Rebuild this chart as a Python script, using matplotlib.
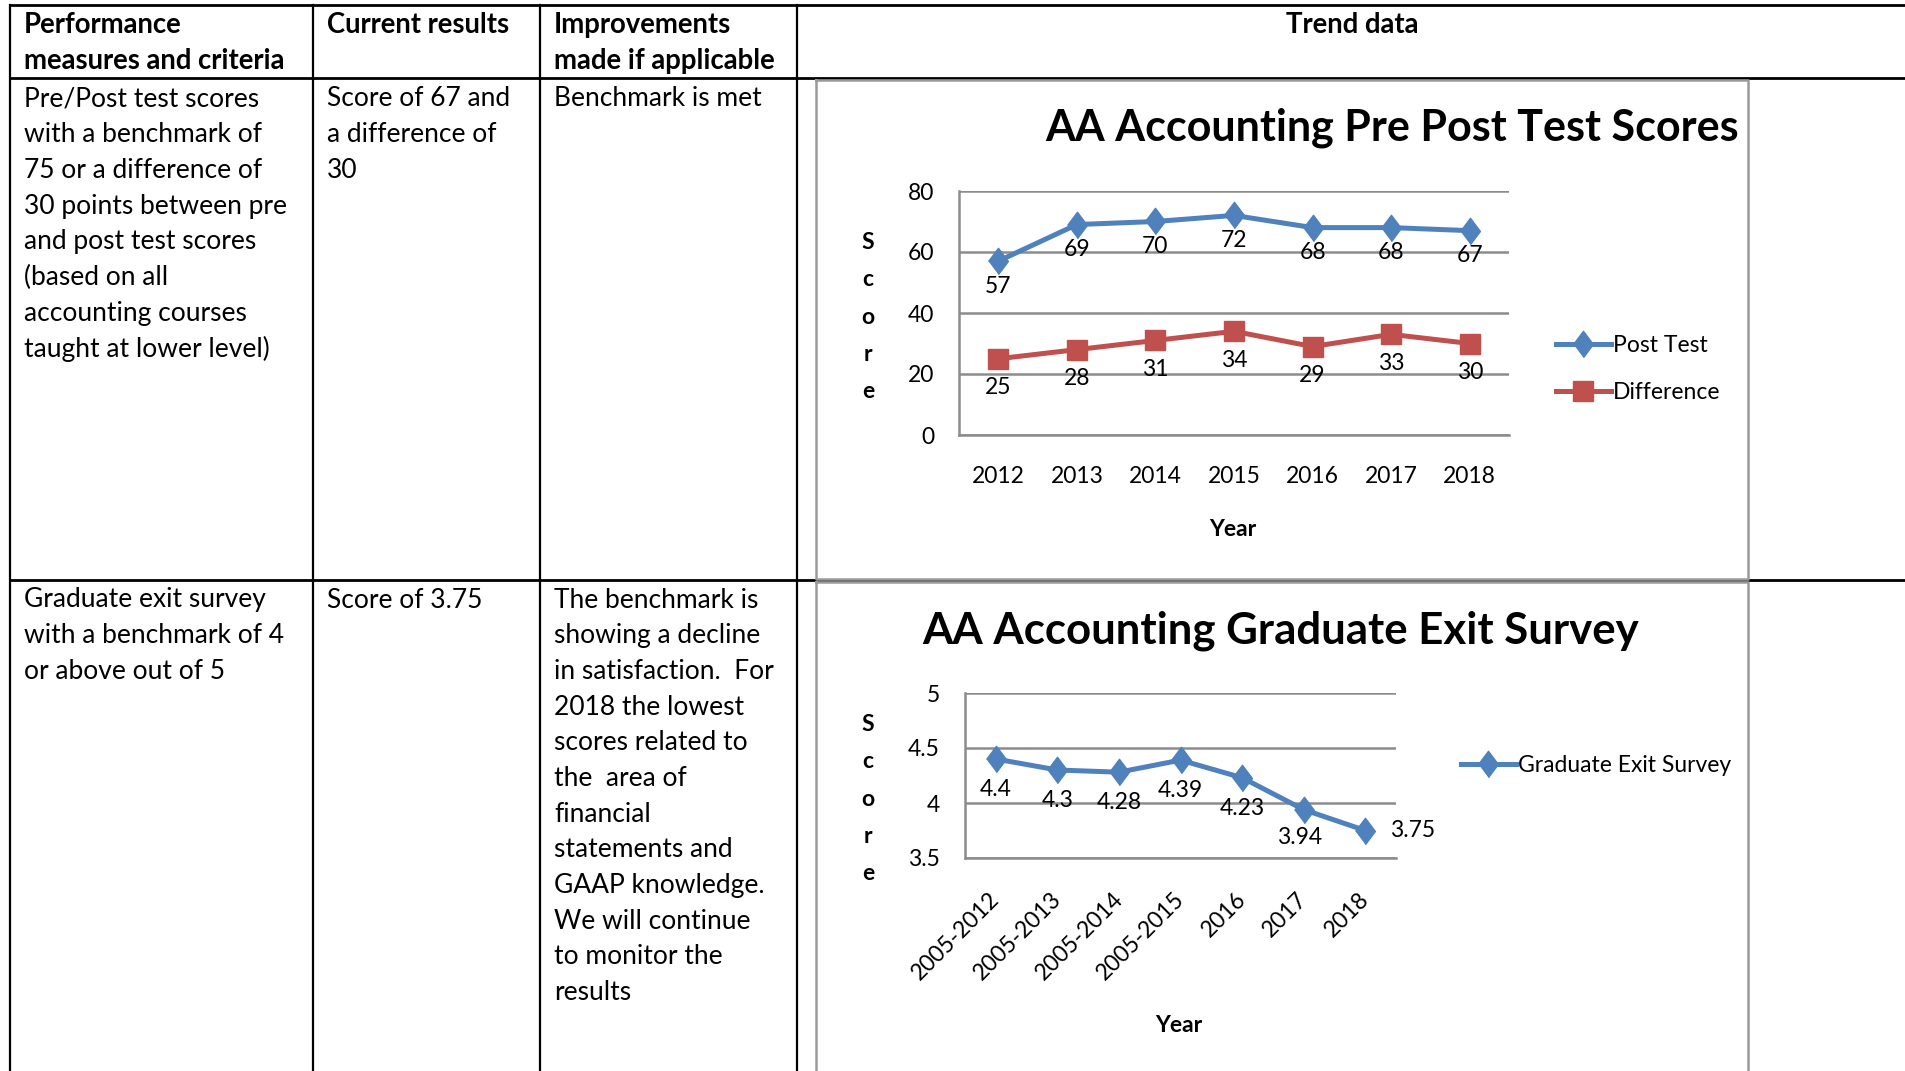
import matplotlib
matplotlib.use("Agg")
import matplotlib.pyplot as plt

plt.rcParams['font.family'] = ['Lato', 'DejaVu Sans']

W, H = 1906, 1071

# ---- data ----
years = ['2012', '2013', '2014', '2015', '2016', '2017', '2018']
post_test = [57, 69, 70, 72, 68, 68, 67]
difference = [25, 28, 31, 34, 29, 33, 30]

survey_years = ['2005-2012', '2005-2013', '2005-2014', '2005-2015', '2016', '2017', '2018']
exit_survey = [4.4, 4.3, 4.28, 4.39, 4.23, 3.94, 3.75]

header = [['Performance', 'measures and criteria'], ['Current results'],
          ['Improvements', 'made if applicable']]
row1 = [['Pre/Post test scores', 'with a benchmark of', '75 or a difference of',
         '30 points between pre', 'and post test scores', '(based on all',
         'accounting courses', 'taught at lower level)'],
        ['Score of 67 and', 'a difference of', '30'],
        ['Benchmark is met']]
row2 = [['Graduate exit survey', 'with a benchmark of 4', 'or above out of 5'],
        ['Score of 3.75'],
        ['The benchmark is', 'showing a decline', 'in satisfaction.  For',
         '2018 the lowest', 'scores related to', 'the  area of', 'financial',
         'statements and', 'GAAP knowledge.', 'We will continue',
         'to monitor the', 'results']]

BLUE = '#4F81BD'
RED = '#C0504D'
GRID = '#8C8C8C'
FS = 16.5      # chart text
TFS = 19       # table text
DIAMOND = [(0, -1), (0.75, 0), (0, 1), (-0.75, 0)]

fig = plt.figure(figsize=(W / 100, H / 100), dpi=100)

# table layer in pixel coordinates
tab = fig.add_axes([0, 0, 1, 1])
tab.set_xlim(0, W)
tab.set_ylim(H, 0)
tab.axis('off')

# table rules
for y in [5, 78, 580]:
    tab.plot([10, W], [y, y], color='black', lw=2)
for x in [10, 313, 540, 797]:
    tab.plot([x, x], [5, H], color='black', lw=1.6)
# chart frames
for y0, y1 in [(80, 579), (582, H + 5)]:
    tab.plot([816, 1748, 1748, 816, 816], [y0, y0, y1, y1, y0], color='#9A9A9A', lw=1.8)

col_x = [24, 327, 554]
step = 35.7
for cx, lines in zip(col_x, header):
    for i, t in enumerate(lines):
        tab.text(cx, 25 + i * step, t, fontsize=19.8, fontweight='bold', va='center')
tab.text(1352, 25, 'Trend data', fontsize=19.8, fontweight='bold', va='center', ha='center')
for cx, lines in zip(col_x, row1):
    for i, t in enumerate(lines):
        tab.text(cx, 99 + i * step, t, fontsize=TFS, va='center')
for cx, lines in zip(col_x, row2):
    for i, t in enumerate(lines):
        tab.text(cx, 600 + i * step, t, fontsize=TFS, va='center')


def style(ax):
    for s in ['top', 'right']:
        ax.spines[s].set_visible(False)
    for s in ['left', 'bottom']:
        ax.spines[s].set_color(GRID)
        ax.spines[s].set_linewidth(1.8)
    ax.yaxis.grid(True, color=GRID, lw=1.8)
    ax.set_axisbelow(True)
    ax.tick_params(length=0, labelsize=FS)


# ---- chart 1 ----
ax1 = fig.add_axes([959 / W, 1 - 435 / H, 550 / W, 244 / H])
style(ax1)
x1 = range(len(years))
ax1.plot(x1, post_test, color=BLUE, lw=3.6, marker=DIAMOND, ms=19, label='Post Test')
ax1.plot(x1, difference, color=RED, lw=3.6, marker='s', ms=14, label='Difference')
for i, v in enumerate(post_test):
    ax1.annotate(str(v), (i, v), xytext=(0, -18), textcoords='offset points',
                 ha='center', va='center', fontsize=FS)
for i, v in enumerate(difference):
    ax1.annotate(str(v), (i, v), xytext=(0, -21), textcoords='offset points',
                 ha='center', va='center', fontsize=FS)
ax1.set_xlim(-0.5, len(years) - 0.5)
ax1.set_ylim(0, 80)
ax1.set_yticks([0, 20, 40, 60, 80])
ax1.set_xticks(list(x1))
ax1.set_xticklabels(years)
ax1.tick_params(axis='x', pad=22)
ax1.tick_params(axis='y', pad=18)
ax1.legend(loc='center left', bbox_to_anchor=(1535 / W, 1 - 369 / H),
           bbox_transform=fig.transFigure, frameon=False, fontsize=FS,
           handlelength=2.4, handletextpad=0.1, labelspacing=1.1)
fig.text(1392 / W, 1 - 128 / H, 'AA Accounting Pre Post Test Scores',
         fontsize=31, fontweight='bold', ha='center', va='center')
fig.text(868 / W, 1 - 317 / H, 'S\nc\no\nr\ne', fontsize=FS, fontweight='bold',
         ha='center', va='center', linespacing=1.95)
fig.text(1233 / W, 1 - 529 / H, 'Year', fontsize=FS, fontweight='bold',
         ha='center', va='center')

# ---- chart 2 ----
ax2 = fig.add_axes([965 / W, 1 - 858 / H, 431 / W, 165 / H])
style(ax2)
x2 = range(len(survey_years))
ax2.plot(x2, exit_survey, color=BLUE, lw=3.6, marker=DIAMOND, ms=19,
         label='Graduate Exit Survey')
for i, v in enumerate(exit_survey):
    if i == len(exit_survey) - 1:
        off = (34, 0)
    elif i == len(exit_survey) - 2:
        off = (-3, -20)
    else:
        off = (0, -22)
    ax2.annotate(f'{v:g}', (i, v), xytext=off, textcoords='offset points',
                 ha='center', va='center', fontsize=FS)
ax2.set_xlim(-0.5, len(survey_years) - 0.5)
ax2.set_ylim(3.5, 5)
ax2.set_yticks([3.5, 4, 4.5, 5])
ax2.set_yticklabels(['3.5', '4', '4.5', '5'])
ax2.set_xticks(list(x2))
ax2.set_xticklabels([])
# rotated category labels
for i, lab in enumerate(survey_years):
    ax2.annotate(lab, (i, 0), xycoords=ax2.get_xaxis_transform(),
                 xytext=(-5, -22), textcoords='offset points', rotation=45,
                 ha='right', va='top', rotation_mode='anchor', fontsize=FS)
ax2.tick_params(axis='y', pad=18)
ax2.legend(loc='center left', bbox_to_anchor=(1440 / W, 1 - 766 / H),
           bbox_transform=fig.transFigure, frameon=False, fontsize=FS,
           handlelength=2.4, handletextpad=0.1)
fig.text(1281 / W, 1 - 631 / H, 'AA Accounting Graduate Exit Survey',
         fontsize=31.5, fontweight='bold', ha='center', va='center')
fig.text(868 / W, 1 - 799 / H, 'S\nc\no\nr\ne', fontsize=FS, fontweight='bold',
         ha='center', va='center', linespacing=1.95)
fig.text(1179 / W, 1 - 1025 / H, 'Year', fontsize=FS, fontweight='bold',
         ha='center', va='center')

fig.savefig('out.png', dpi=100)
